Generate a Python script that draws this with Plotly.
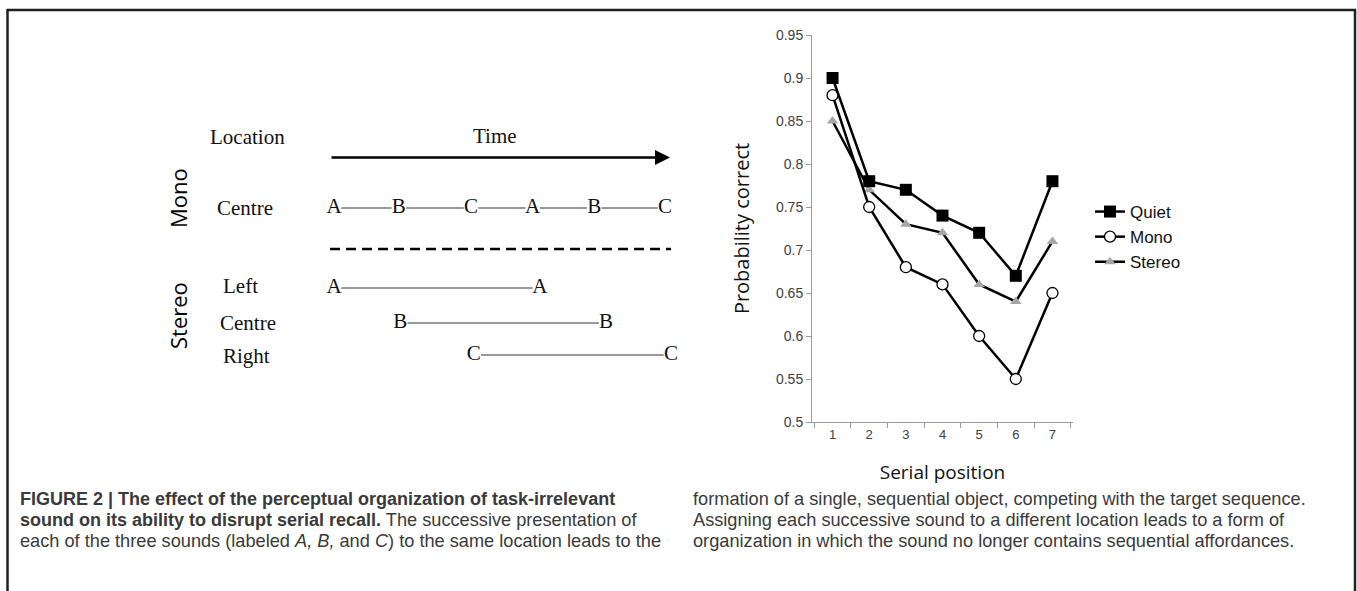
import plotly.graph_objects as go

W, H = 1357, 591

# ---------------- chart data ----------------
serial_positions = ["1", "2", "3", "4", "5", "6", "7"]
quiet = [0.90, 0.78, 0.77, 0.74, 0.72, 0.67, 0.78]
mono = [0.88, 0.75, 0.68, 0.66, 0.60, 0.55, 0.65]
stereo = [0.85, 0.77, 0.73, 0.72, 0.66, 0.64, 0.71]
y_tick_values = [0.5, 0.55, 0.6, 0.65, 0.7, 0.75, 0.8, 0.85, 0.9, 0.95]
y_tick_labels = ["0.5", "0.55", "0.6", "0.65", "0.7", "0.75", "0.8", "0.85", "0.9", "0.95"]

# ---------------- schematic data (sound onsets, in time steps) ----------------
mono_centre_letters = ["A", "B", "C", "A", "B", "C"]
mono_centre_times = [0.0, 0.98, 2.07, 3.0, 3.93, 5.0]
stereo_left_letters = ["A", "A"]
stereo_left_times = [0.0, 3.11]
stereo_centre_letters = ["B", "B"]
stereo_centre_times = [1.0, 4.11]
stereo_right_letters = ["C", "C"]
stereo_right_times = [2.11, 5.09]

BOLD = '<b><span style="font-size:18px">{}</span></b>'
caption_left = [
    BOLD.format("FIGURE 2 | The effect of the perceptual organization of task-irrelevant"),
    BOLD.format("sound on its ability to disrupt serial recall.") + " The successive presentation of",
    "each of the three sounds (labeled <i>A, B,</i> and <i>C</i>) to the same location leads to the",
]
caption_right = [
    "formation of a single, sequential object, competing with the target sequence.",
    "Assigning each successive sound to a different location leads to a form of",
    "organization in which the sound no longer contains sequential affordances.",
]

# ---------------- layout helpers ----------------
def px(x):
    return x / W

def py(y):
    return 1 - y / H

SERIF = "Liberation Serif"
SANS = "Liberation Sans"
HUMAN = "Open Sans"
INK = "#231f20"

# schematic time axis mapping
T0_PX, T_STEP_PX = 334.0, 66.2
SCH_LEFT, SCH_RIGHT = 300.0, 700.0
ROW_Y = {"mono_centre": 208, "left": 288, "stereo_centre": 323, "right": 355}
LETTER_GAP = 0.11

fig = go.Figure()

# ---- schematic rows ----
rows = [
    (mono_centre_letters, mono_centre_times, ROW_Y["mono_centre"]),
    (stereo_left_letters, stereo_left_times, ROW_Y["left"]),
    (stereo_centre_letters, stereo_centre_times, ROW_Y["stereo_centre"]),
    (stereo_right_letters, stereo_right_times, ROW_Y["right"]),
]
for letters, times, ry in rows:
    lx, ly = [], []
    for a, b in zip(times[:-1], times[1:]):
        lx += [a + LETTER_GAP, b - LETTER_GAP, None]
        ly += [ry, ry, None]
    fig.add_trace(go.Scatter(x=lx, y=ly, mode="lines", xaxis="x2", yaxis="y2",
                             line=dict(color="#333333", width=1.2),
                             showlegend=False, hoverinfo="skip"))
    fig.add_trace(go.Scatter(x=times, y=[ry] * len(times), mode="text", text=letters,
                             textposition="middle center", xaxis="x2", yaxis="y2",
                             textfont=dict(family=SERIF, size=21, color="#111111"),
                             showlegend=False, hoverinfo="skip"))

# ---- chart traces (drawn Stereo, Mono, Quiet; legend ordered by rank) ----
fig.add_trace(go.Scatter(
    x=serial_positions, y=stereo, name="Stereo", legendrank=3,
    mode="lines+markers", line=dict(color="black", width=2.5),
    marker=dict(symbol="triangle-up", size=10, color="#a6a6a6", line=dict(width=0))))
fig.add_trace(go.Scatter(
    x=serial_positions, y=mono, name="Mono", legendrank=2,
    mode="lines+markers", line=dict(color="black", width=2.5),
    marker=dict(symbol="circle", size=11, color="white", line=dict(color="black", width=1.3))))
fig.add_trace(go.Scatter(
    x=serial_positions, y=quiet, name="Quiet", legendrank=1,
    mode="lines+markers", line=dict(color="black", width=2.5),
    marker=dict(symbol="square", size=12, color="black")))

shapes = []
# figure frame (top, left, right)
shapes.append(dict(type="line", xref="paper", yref="paper", x0=px(7), x1=px(1356), y0=py(10), y1=py(10),
                   line=dict(color=INK, width=2.5)))
shapes.append(dict(type="line", xref="paper", yref="paper", x0=px(7.5), x1=px(7.5), y0=py(9), y1=py(591),
                   line=dict(color=INK, width=2.5)))
shapes.append(dict(type="line", xref="paper", yref="paper", x0=px(1355), x1=px(1355), y0=py(9), y1=py(591),
                   line=dict(color=INK, width=2.5)))
# dashed separator between mono and stereo
shapes.append(dict(type="line", xref="paper", yref="paper", x0=px(330), x1=px(671), y0=py(249), y1=py(249),
                   line=dict(color="black", width=2.5, dash="10px,6px")))

annotations = []
# time arrow
annotations.append(dict(xref="paper", yref="paper", x=px(670), y=py(157.5), ax=-340, ay=0,
                        showarrow=True, arrowhead=2, arrowsize=1.2, arrowwidth=2.5, arrowcolor="black", text=""))

def label(text, x, y, family, size, xanchor="left", angle=0, color="#111111"):
    annotations.append(dict(xref="paper", yref="paper", x=px(x), y=py(y), text=text, showarrow=False,
                            xanchor=xanchor, yanchor="middle", textangle=angle,
                            font=dict(family=family, size=size, color=color)))

label("Location", 208, 137, SERIF, 21)
label("Time", 495, 136, SERIF, 21, xanchor="center")
label("Centre", 215, 208, SERIF, 21)
label("Left", 221, 286, SERIF, 21)
label("Centre", 218, 323, SERIF, 21)
label("Right", 221, 356, SERIF, 21)
label("Mono", 178, 198, HUMAN, 22, xanchor="center", angle=-90, color="#000000")
label("Stereo", 178, 316, HUMAN, 22, xanchor="center", angle=-90, color="#000000")

# caption
for i, line in enumerate(caption_left):
    label(line, 18, 499 + 21 * i, SANS, 18.2, color="#3a3a3a")
for i, line in enumerate(caption_right):
    label(line, 691, 499 + 21 * i, SANS, 18.2, color="#3a3a3a")

AX_GRAY = "#9a9a9a"
fig.update_layout(
    width=W, height=H,
    margin=dict(l=0, r=0, t=0, b=0),
    paper_bgcolor="white", plot_bgcolor="white",
    shapes=shapes, annotations=annotations,
    xaxis=dict(domain=[px(812), px(1073)], type="category", tickson="boundaries",
               ticks="outside", ticklen=5, tickcolor=AX_GRAY, showline=True, linecolor=AX_GRAY,
               linewidth=1, showgrid=False, zeroline=False, automargin=False,
               tickfont=dict(family=SANS, size=13, color="#404040"),
               title=dict(text="Serial position", standoff=25,
                          font=dict(family=HUMAN, size=19, color="#111111"))),
    yaxis=dict(domain=[py(422), py(35)], range=[0.5, 0.95], tickvals=y_tick_values,
               ticktext=y_tick_labels, ticks="outside", ticklen=5, tickcolor=AX_GRAY,
               showline=True, linecolor=AX_GRAY, linewidth=1, showgrid=False, zeroline=False,
               automargin=False, tickfont=dict(family=SANS, size=14, color="#404040"),
               title=dict(text="Probability correct", standoff=20,
                          font=dict(family=HUMAN, size=20, color="#111111"))),
    xaxis2=dict(domain=[px(SCH_LEFT), px(SCH_RIGHT)],
                range=[(SCH_LEFT - T0_PX) / T_STEP_PX, (SCH_RIGHT - T0_PX) / T_STEP_PX],
                visible=False, anchor="y2"),
    yaxis2=dict(domain=[0, 1], range=[H, 0], visible=False, anchor="x2"),
    legend=dict(x=px(1090), y=py(194), xanchor="left", yanchor="top", traceorder="normal",
                tracegroupgap=7, bgcolor="rgba(0,0,0,0)",
                font=dict(family=SANS, size=17, color="#111111")),
    showlegend=True,
)

fig.write_html("out.html", config={"displayModeBar": False},
               post_script="document.body.style.margin='0px';")
